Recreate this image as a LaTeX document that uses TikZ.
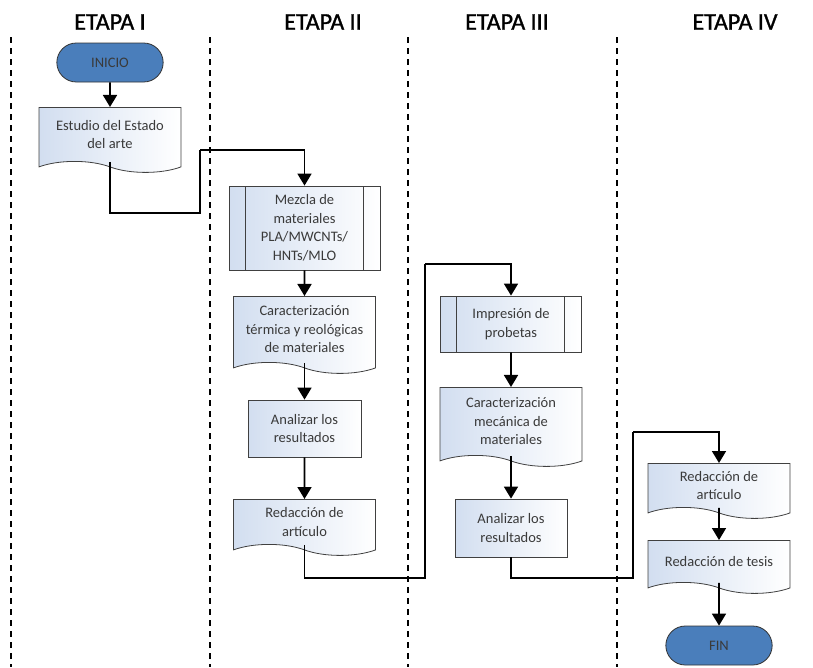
\documentclass[tikz,border=0pt]{standalone}
\usepackage{fontspec}
\setmainfont{Carlito}
\newfontfamily\etapafont[FakeBold=1.2]{Carlito}
\usepackage{tikz}
\usetikzlibrary{calc}
\usetikzlibrary{arrows.meta}
\usetikzlibrary{shapes.misc, shapes.symbols}

\definecolor{azulfin}{HTML}{4A7EBB}
\definecolor{fondo}{HTML}{D2DEF0}
\definecolor{borde}{HTML}{404040}
\definecolor{letra}{HTML}{3A3A3A}

\tikzset{
    caja/.style={draw=borde, line width=0.8pt, left color=fondo, right color=white,
        text=letra, align=center, font=\fontsize{14.5}{18.5}\selectfont, inner sep=2pt},
    proceso/.style={caja, rectangle},
    predef/.style={caja, rectangle,
        path picture={
            \draw[borde, line width=0.8pt] ([xshift=16pt]path picture bounding box.north west) -- ([xshift=16pt]path picture bounding box.south west);
            \draw[borde, line width=0.8pt] ([xshift=-17pt]path picture bounding box.north east) -- ([xshift=-17pt]path picture bounding box.south east);
        }},
    docu/.style={caja, tape, tape bend top=none, tape bend bottom=out and in,
        tape bend height=11pt, minimum width=142pt, anchor=north},
    terminal/.style={rounded rectangle, draw=borde!80!black, line width=0.8pt, fill=azulfin,
        text=letra, font=\fontsize{14.5}{16}\selectfont, minimum width=113pt, minimum height=39pt},
    etapa/.style={font=\etapafont\fontsize{24}{28}\selectfont, text=black},
    carril/.style={line width=1.8pt, dash pattern=on 6pt off 5pt},
    flecha/.style={line width=1.7pt, -{Triangle[length=12pt, width=14pt]}},
    enlace/.style={line width=1.7pt}
}

\begin{document}
\begin{tikzpicture}[x=1pt, y=-1pt]
        \useasboundingbox (0,0) rectangle (813,667);
        \foreach \xc in {11, 210, 408, 617}
            \draw[carril] (\xc,37) -- (\xc,667);
        \node[etapa] (e1) at (110,22) {ETAPA I};
        \node[etapa] (e2) at (323,22) {ETAPA II};
        \node[etapa] (e3) at (507,22) {ETAPA III};
        \node[etapa] (e4) at (735,22) {ETAPA IV};
        \node[terminal] (ini) at (110,62.5) {INICIO};
        \node[docu, minimum height=65pt] (doc1) at (110,107) {Estudio del Estado\\ del arte};
        \node[predef, minimum width=151pt, minimum height=84pt] (mez) at (304.5,228) {Mezcla de\\ materiales\\ PLA/MWCNTs/\\ HNTs/MLO};
        \node[docu, minimum height=77pt] (doc2) at (304.5,296) {Caracterización\\ térmica y reológicas\\ de materiales};
        \node[proceso, minimum width=113pt, minimum height=57pt] (an1) at (304.5,428.5) {Analizar los\\ resultados};
        \node[docu, minimum height=56pt] (doc3) at (304.5,499) {Redacción de\\ artículo};
        \node[predef, minimum width=141pt, minimum height=56pt] (imp) at (511,324) {Impresión de\\ probetas};
        \node[docu, minimum height=79pt] (doc4) at (511,387) {Caracterización\\ mecánica de\\ materiales};
        \node[proceso, minimum width=112pt, minimum height=58pt] (an2) at (511,528) {Analizar los\\ resultados};
        \node[docu, minimum height=55pt] (doc5) at (719,463) {Redacción de\\ artículo};
        \node[docu, minimum height=53pt] (doc6) at (719,540) {Redacción de tesis};
        \node[terminal] (fin) at (719,645.5) {FIN};
        \coordinate (k1) at (200,213);
        \coordinate (k2) at (200,150);
        \coordinate (k3) at (425,578);
        \coordinate (k4) at (425,264);
        \coordinate (k5) at (633,578);
        \coordinate (k6) at (633,432);
        \draw[flecha] (ini) -- (doc1);
        \draw[enlace] (doc1.south) |- (k1) -- (k2);
        \draw[flecha] (k2) -| (mez.north);
        \draw[flecha] (mez) -- (doc2);
        \draw[flecha] (doc2.south) -- (an1);
        \draw[flecha] (an1) -- (doc3);
        \draw[enlace] (doc3.south) |- (k3) -- (k4);
        \draw[flecha] (k4) -| (imp.north);
        \draw[flecha] (imp) -- (doc4);
        \draw[flecha] (doc4.south) -- (an2);
        \draw[enlace] (an2.south) |- (k5) -- (k6);
        \draw[flecha] (k6) -| (doc5.north);
        \draw[flecha] (doc5.south) -- (doc6);
        \draw[flecha] (doc6.south) -- (fin);
    \end{tikzpicture}
\end{document}
